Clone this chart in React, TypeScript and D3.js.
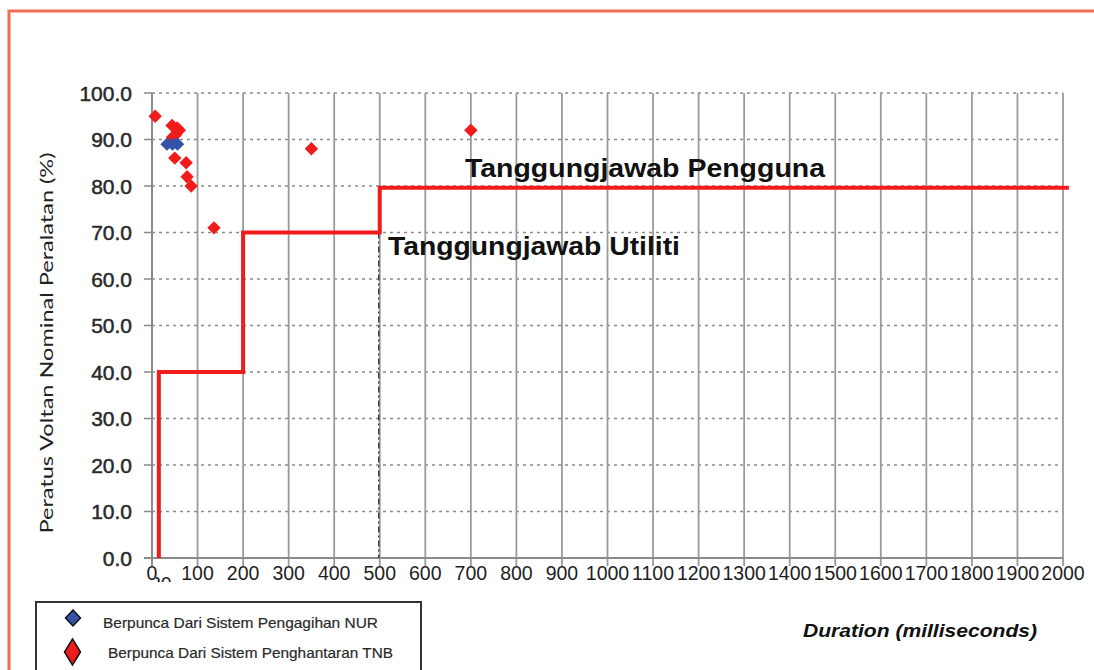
import React from "react";
import * as d3 from "d3";

const xTicks = [0, 100, 200, 300, 400, 500, 600, 700, 800, 900, 1000, 1100, 1200, 1300, 1400, 1500, 1600, 1700, 1800, 1900, 2000];
const yTicks = [0, 10, 20, 30, 40, 50, 60, 70, 80, 90, 100];

const stepDurations = [15, 15, 200, 200, 500, 500, 2013];
const stepLevels = [0, 40, 40, 70, 70, 79.6, 79.6];

const nurDurations = [33, 45, 56];
const nurLevels = [89, 89, 89];

const tnbDurations = [7, 44, 60, 52, 45, 55, 50, 75, 77, 86, 136, 350, 700];
const tnbLevels = [95, 93, 92, 91, 90.5, 92.5, 86, 85, 82, 80, 71, 88, 92];

const legendLabels = ["Berpunca Dari Sistem Pengagihan NUR", "Berpunca Dari Sistem Penghantaran TNB"];
const yTitle = "Peratus Voltan Nominal Peralatan (%)";
const xTitle = "Duration (milliseconds)";
const zoneUser = "Tanggungjawab Pengguna";
const zoneUtility = "Tanggungjawab Utiliti";

export default function App() {
  const x = d3.scaleLinear().domain([0, 2000]).range([152, 1063]);
  const y = d3.scaleLinear().domain([0, 100]).range([558, 93]);

  const stepPts: [number, number][] = stepDurations.map((d, i) => [x(d), y(stepLevels[i])]);
  const stepPath = d3.line()(stepPts) || "";
  const diamond = d3.symbol().type(d3.symbolSquare).size(90)() || "";

  const red = "#f01c1c";
  const blue = "#3552a8";

  return (
    <svg width={1094} height={670} style={{ position: "absolute", left: 0, top: 0, background: "#fff" }}>
      <defs>
        <clipPath id="clip20">
          <rect x={156} y={560} width={20} height={22} />
        </clipPath>
      </defs>
      {/* frame */}
      <path d="M9,690 L9,11 L1110,11" fill="none" stroke="#f7b3a5" strokeWidth={4} />
      <path d="M9,690 L9,11 L1110,11" fill="none" stroke="#ee5a40" strokeWidth={1.6} />

      {/* horizontal dotted grid */}
      {yTicks.filter((t) => t > 0).map((t) => (
        <line key={"hg" + t} x1={x(0)} x2={x(2000)} y1={y(t)} y2={y(t)} stroke="#8a8a8a" strokeWidth={1.4} strokeDasharray="3 4" />
      ))}
      {/* vertical grid */}
      {xTicks.filter((t) => t > 0).map((t) => (
        <line key={"vg" + t} x1={x(t)} x2={x(t)} y1={y(100)} y2={y(0) + 8} stroke="#9a9a9a" strokeWidth={1.8} />
      ))}
      {/* axes */}
      <line x1={x(0)} x2={x(0)} y1={y(100)} y2={y(0) + 8} stroke="#8a8a8a" strokeWidth={2} />
      <line x1={x(0) - 8} x2={x(2000)} y1={y(0)} y2={y(0)} stroke="#8a8a8a" strokeWidth={2} />
      {yTicks.map((t) => (
        <line key={"yt" + t} x1={x(0) - 8} x2={x(0)} y1={y(t)} y2={y(t)} stroke="#8a8a8a" strokeWidth={1.5} />
      ))}

      {/* y tick labels */}
      {yTicks.map((t) => (
        <text key={"yl" + t} x={132} y={y(t) + 7.5} textAnchor="end" fontFamily="'Liberation Sans', Arial, sans-serif" fontSize={21} fill="#2a2a2a" stroke="#2a2a2a" strokeWidth={0.5}>
          {t.toFixed(1)}
        </text>
      ))}
      {/* x tick labels */}
      {xTicks.map((t) => (
        <text key={"xl" + t} x={x(t)} y={580} textAnchor="middle" fontFamily="'Liberation Sans', Arial, sans-serif" fontSize={19.5} fill="#1e1e1e">
          {t}
        </text>
      ))}
      <text x={x(15) + 2} y={591} textAnchor="middle" fontFamily="'Liberation Sans', Arial, sans-serif" fontSize={19.5} fill="#1e1e1e" clipPath="url(#clip20)">
        20
      </text>

      {/* y title */}
      <text transform={`translate(53,343) rotate(-90)`} textAnchor="middle" fontFamily="Lato, 'DejaVu Sans', sans-serif" fontSize={18} fill="#222" textLength={381} lengthAdjust="spacingAndGlyphs">
        {yTitle}
      </text>

      {/* dash-dot line at 500 */}
      <line x1={x(500) - 1} x2={x(500) - 1} y1={y(70)} y2={y(0)} stroke="#222" strokeWidth={1.2} strokeDasharray="6 3 2 3" />

      {/* step limit line */}
      <path d={stepPath} fill="none" stroke={red} strokeWidth={4} />

      {/* scatter */}
      {tnbDurations.map((d, i) => (
        <path key={"r" + i} d={diamond} transform={`translate(${x(d)},${y(tnbLevels[i])}) rotate(45)`} fill={red} />
      ))}
      {nurDurations.map((d, i) => (
        <path key={"b" + i} d={diamond} transform={`translate(${x(d)},${y(nurLevels[i])}) rotate(45)`} fill={blue} />
      ))}

      {/* zone labels */}
      <text x={465} y={177} fontFamily="'Liberation Sans', Arial, sans-serif" fontWeight="bold" fontSize={26} fill="#111" textLength={360} lengthAdjust="spacingAndGlyphs">
        {zoneUser}
      </text>
      <text x={388} y={255} fontFamily="'Liberation Sans', Arial, sans-serif" fontWeight="bold" fontSize={26} fill="#111" textLength={292} lengthAdjust="spacingAndGlyphs">
        {zoneUtility}
      </text>

      {/* x title */}
      <text x={803} y={637} fontFamily="'Liberation Sans', Arial, sans-serif" fontWeight="bold" fontStyle="italic" fontSize={18} fill="#111" textLength={234} lengthAdjust="spacingAndGlyphs">
        {xTitle}
      </text>

      {/* legend */}
      <rect x={36} y={602} width={385} height={90} fill="#fff" stroke="#333" strokeWidth={2} />
      <path d="M73,610 L80.5,618 L73,626 L65.5,618 Z" fill={blue} stroke="#111" strokeWidth={1.5} />
      <path d="M72.5,639 L80.5,652 L72.5,665 L64.5,652 Z" fill={red} stroke="#111" strokeWidth={1.5} />
      <text x={103} y={628} fontFamily="'Liberation Sans Narrow', 'Liberation Sans', Arial, sans-serif" fontSize={15} fill="#2a2a2a" stroke="#2a2a2a" strokeWidth={0.2} textLength={275} lengthAdjust="spacingAndGlyphs">
        {legendLabels[0]}
      </text>
      <text x={108} y={658} fontFamily="'Liberation Sans Narrow', 'Liberation Sans', Arial, sans-serif" fontSize={15} fill="#2a2a2a" stroke="#2a2a2a" strokeWidth={0.2} textLength={285} lengthAdjust="spacingAndGlyphs">
        {legendLabels[1]}
      </text>
    </svg>
  );
}
